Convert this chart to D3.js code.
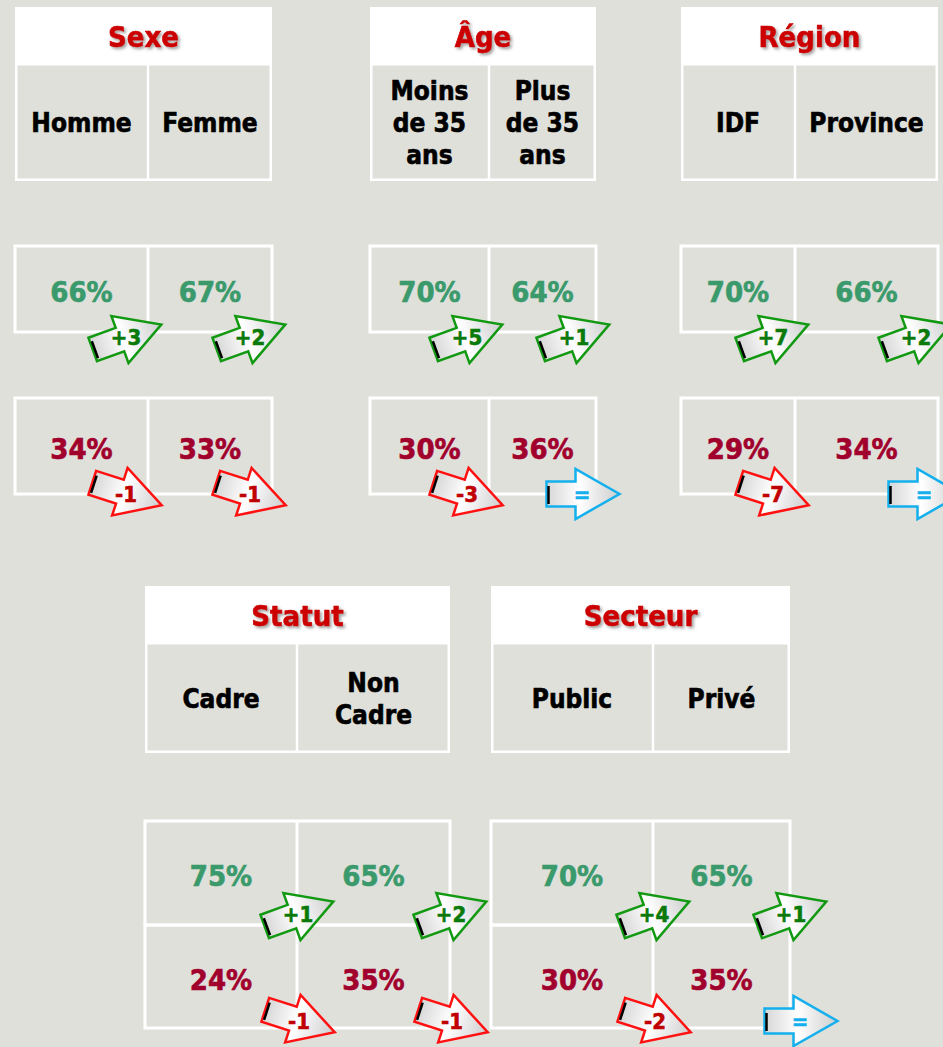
<!DOCTYPE html>
<html>
<head>
<meta charset="utf-8">
<script src="https://cdn.jsdelivr.net/npm/d3@7"></script>
<style>
  html, body { margin: 0; padding: 0; background: #e0e0db; }
  svg { display: block; }
  text { font-family: "DejaVu Sans Condensed", "DejaVu Sans", sans-serif; font-weight: bold; stroke-width: 0.6; }
</style>
</head>
<body>
<div class="vis"></div>
<script>
(function() {
  'use strict';

  // data
  var groups = ['Sexe', 'Âge', 'Région', 'Statut', 'Secteur'];
  var categories = [
    ['Homme', 'Femme'],
    ['Moins\nde 35\nans', 'Plus\nde 35\nans'],
    ['IDF', 'Province'],
    ['Cadre', 'Non\nCadre'],
    ['Public', 'Privé']
  ];
  var positive = [[66, 67], [70, 64], [70, 66], [75, 65], [70, 65]];
  var negative = [[34, 33], [30, 36], [29, 34], [24, 35], [30, 35]];
  var positiveChange = [[3, 2], [5, 1], [7, 2], [1, 2], [4, 1]];
  var negativeChange = [[-1, -1], [-3, 0], [-7, 0], [-1, -1], [-2, 0]];

  // layout
  var width = 943, height = 1047;
  var panelX = [[15, 148, 272], [370, 489, 596], [681, 795, 938], [145, 297, 450], [491, 653, 790]];
  var panelRow = [0, 0, 0, 1, 1];
  var rows = [
    {head: [7, 64, 181], pos: [246, 332], neg: [398, 494], posArrow: [-21, 5], negArrow: [-21, 0]},
    {head: [586, 643, 753], pos: [821, 925], neg: [925, 1028], posArrow: [2, -11], negArrow: [3, -7]}
  ];

  var colors = {
    title: '#cc0000', pos: '#3a9a6c', neg: '#a1002d',
    up: {stroke: '#119911', text: '#0a7a0a'},
    down: {stroke: '#ff1111', text: '#c00000'},
    same: {stroke: '#14b0ee', text: '#14b0ee'}
  };

  var svg = d3.select('.vis').append('svg')
      .attr('width', width)
      .attr('height', height);

  var defs = svg.append('defs');
  var shadow = defs.append('filter').attr('id', 'shadow')
      .attr('x', '-20%').attr('y', '-20%').attr('width', '140%').attr('height', '150%');
  shadow.append('feDropShadow')
      .attr('dx', 2).attr('dy', 2).attr('stdDeviation', 1.5)
      .attr('flood-color', '#555').attr('flood-opacity', 0.55);

  var grad = defs.append('linearGradient').attr('id', 'arrowFill');
  grad.append('stop').attr('offset', '0%').attr('stop-color', '#d6d6d6');
  grad.append('stop').attr('offset', '45%').attr('stop-color', '#ffffff');
  grad.append('stop').attr('offset', '100%').attr('stop-color', '#cdcdcd');

  // block arrow centred on 0,0 pointing right
  var arrowPts = [[-36.5, -12.5], [-7.5, -12.5], [-7.5, -25], [36.5, 0], [-7.5, 25], [-7.5, 12.5], [-36.5, 12.5]];
  var arrowLine = d3.line().curve(d3.curveLinearClosed);

  groups.forEach(function(name, gi) {
    var row = rows[panelRow[gi]];
    var px = panelX[gi];
    var x = d3.scaleOrdinal()
        .domain(categories[gi])
        .range([[px[0], px[1]], [px[1], px[2]]]);
    var g = svg.append('g').attr('class', 'panel');

    // header box
    g.append('rect')
        .attr('x', px[0]).attr('y', row.head[0])
        .attr('width', px[2] - px[0]).attr('height', row.head[2] - row.head[0])
        .attr('fill', '#fff');
    g.append('text')
        .attr('x', (px[0] + px[2]) / 2)
        .attr('y', (row.head[0] + row.head[1]) / 2 + 11)
        .attr('text-anchor', 'middle')
        .attr('font-size', 29)
        .attr('fill', colors.title)
        .attr('stroke', colors.title)
        .attr('filter', 'url(#shadow)')
        .text(name);

    var cells = g.selectAll('.cat')
      .data(categories[gi])
      .enter().append('g')
        .attr('class', 'cat');

    cells.append('rect')
        .attr('x', function(d) { return x(d)[0] + (x(d)[0] === px[0] ? 2.5 : 1.2); })
        .attr('y', row.head[1] + 1.5)
        .attr('width', function(d) { return x(d)[1] - x(d)[0] - 3.7; })
        .attr('height', row.head[2] - row.head[1] - 4)
        .attr('fill', '#e0e0db');

    cells.each(function(d) {
      var lines = d.split('\n');
      var cx = (x(d)[0] + x(d)[1]) / 2;
      var cy = (row.head[1] + row.head[2]) / 2;
      var lh = 32;
      var t = d3.select(this).append('text')
          .attr('text-anchor', 'middle')
          .attr('font-size', 26)
          .attr('fill', '#000')
          .attr('stroke', '#000');
      lines.forEach(function(l, li) {
        t.append('tspan')
            .attr('x', cx)
            .attr('y', cy + 9.5 + (li - (lines.length - 1) / 2) * lh)
            .text(l);
      });
    });

    // value frames
    [row.pos, row.neg].forEach(function(yr) {
      g.append('rect')
          .attr('x', px[0]).attr('y', yr[0])
          .attr('width', px[2] - px[0]).attr('height', yr[1] - yr[0])
          .attr('fill', 'none').attr('stroke', '#fff').attr('stroke-width', 3);
      g.append('line')
          .attr('x1', px[1]).attr('x2', px[1])
          .attr('y1', yr[0]).attr('y2', yr[1])
          .attr('stroke', '#fff').attr('stroke-width', 3);
    });

    var sets = [
      {vals: positive[gi], chg: positiveChange[gi], yr: row.pos, col: colors.pos, off: row.posArrow},
      {vals: negative[gi], chg: negativeChange[gi], yr: row.neg, col: colors.neg, off: row.negArrow}
    ];

    sets.forEach(function(s) {
      categories[gi].forEach(function(cat, ci) {
        var cx = (x(cat)[0] + x(cat)[1]) / 2;
        g.append('text')
            .attr('x', cx)
            .attr('y', (s.yr[0] + s.yr[1]) / 2 + 13)
            .attr('text-anchor', 'middle')
            .attr('font-size', 29)
            .attr('fill', s.col)
            .attr('stroke', s.col)
            .text(s.vals[ci] + '%');

        var c = s.chg[ci];
        var style = c > 0 ? colors.up : (c < 0 ? colors.down : colors.same);
        var ang = c > 0 ? -20 : (c < 0 ? 18 : 0);
        var ax = x(cat)[1] + s.off[0] + (c === 0 ? 8 : 0);
        var ay = s.yr[1] + s.off[1];
        var a = g.append('g')
            .attr('transform', 'translate(' + ax + ',' + ay + ')');
        var shape = a.append('g').attr('transform', 'rotate(' + ang + ')');
        shape.append('path')
            .attr('d', arrowLine(arrowPts))
            .attr('fill', 'url(#arrowFill)')
            .attr('stroke', style.stroke)
            .attr('stroke-width', 2.5)
            .attr('stroke-linejoin', 'miter');
        shape.append('line')
            .attr('x1', -34.5).attr('x2', -34.5)
            .attr('y1', -8).attr('y2', 10)
            .attr('stroke', '#000').attr('stroke-width', 2.5);
        a.append('text')
            .attr('x', -1)
            .attr('y', 8)
            .attr('text-anchor', 'middle')
            .attr('font-size', 22)
            .attr('fill', style.text)
            .attr('stroke', style.text)
            .text(c > 0 ? '+' + c : (c < 0 ? String(c) : '='));
      });
    });
  });
}());
</script>
</body>
</html>
